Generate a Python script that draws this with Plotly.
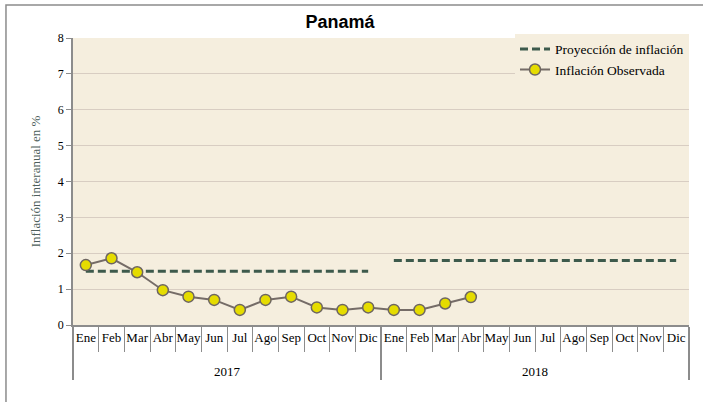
import plotly.graph_objects as go

# datos
years = ["2017"] * 12 + ["2018"] * 12
months = ["Ene", "Feb", "Mar", "Abr", "May", "Jun", "Jul", "Ago", "Sep", "Oct", "Nov", "Dic"] * 2
observed = [1.67, 1.86, 1.47, 0.97, 0.79, 0.70, 0.42, 0.70, 0.79, 0.49, 0.42, 0.49,
            0.42, 0.42, 0.60, 0.78]
proj_2017 = [1.5] * 12
proj_2018 = [1.8] * 12

serif = "Liberation Serif"
green = "#3d5a4c"

# etiqueta de año un poco más abajo, como en el original
year_labels = ["<br>" + y for y in years]

fig = go.Figure()

# proyección 2017 y 2018
fig.add_trace(go.Scatter(
    x=[year_labels[:12], months[:12]], y=proj_2017,
    mode="lines", name="Proyección de inflación", legendgroup="proj",
    line=dict(color=green, width=3, dash="8px,4px"),
))
fig.add_trace(go.Scatter(
    x=[year_labels[12:], months[12:]], y=proj_2018,
    mode="lines", name="Proyección de inflación", legendgroup="proj", showlegend=False,
    line=dict(color=green, width=3, dash="8px,4px"),
))

# inflación observada
fig.add_trace(go.Scatter(
    x=[year_labels[:len(observed)], months[:len(observed)]], y=observed,
    mode="lines+markers", name="Inflación Observada",
    line=dict(color="#756c67", width=2),
    marker=dict(size=11, color="#e5dc00", line=dict(color="#6e6661", width=1.5)),
))

# marco del gráfico
fig.add_shape(type="rect", xref="paper", yref="paper",
              x0=-0.1088, x1=1.05, y0=-0.30, y1=1.115,
              line=dict(color="#8c8c8c", width=1.5), layer="below")

fig.update_layout(
    width=703, height=402,
    margin=dict(l=73, r=14, t=38, b=77, autoexpand=False),
    paper_bgcolor="white",
    plot_bgcolor="#f5eede",
    title=dict(text="<b>Panamá</b>", x=340 / 703, xanchor="center",
               y=1 - 22 / 402, yanchor="middle",
               font=dict(family="Liberation Sans", size=18, color="black")),
    font=dict(family=serif, color="black"),
    showlegend=True,
    legend=dict(x=1.0, xanchor="right", y=1.015, yanchor="top",
                bgcolor="#f5eede", font=dict(family=serif, size=13.5, color="black"),
                tracegroupgap=0, itemwidth=30),
    xaxis=dict(
        type="multicategory",
        range=[-0.5, 23.5],
        tickson="boundaries", ticks="outside", ticklen=25, tickcolor="#8c8c8c",
        tickangle=0,
        showline=True, linecolor="#8c8c8c", linewidth=1.5,
        showgrid=False,
        showdividers=True, dividercolor="#8c8c8c", dividerwidth=1.5,
        tickfont=dict(family=serif, size=13, color="black"),
    ),
    yaxis=dict(
        range=[0, 8], dtick=1,
        ticks="outside", ticklen=5, tickcolor="#8c8c8c",
        showline=True, linecolor="#8c8c8c", linewidth=1.5,
        showgrid=True, gridcolor="#d8cdc2", gridwidth=1,
        zeroline=False,
        tickfont=dict(family=serif, size=12, color="black"),
        title=dict(text="Inflación interanual en %", standoff=14,
                   font=dict(family=serif, size=13, color="#4e5f5c")),
    ),
)

fig.write_html("out.html", config={"displayModeBar": False},
               post_script="document.body.style.margin='0';")
